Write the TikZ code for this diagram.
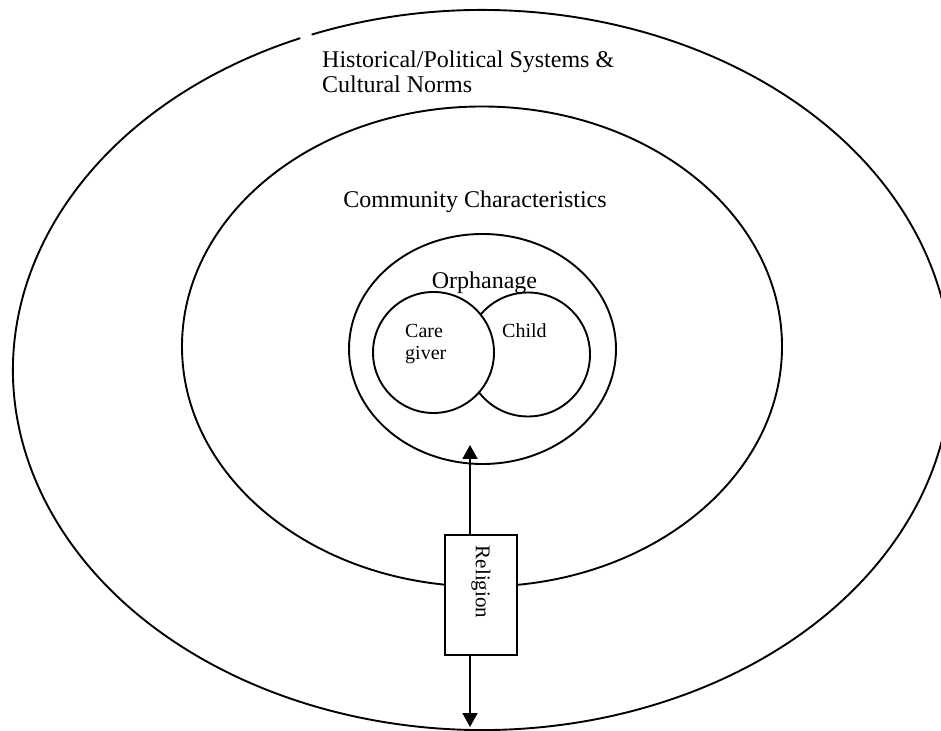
\documentclass[tikz,border=0pt]{standalone}
\usepackage{fontspec}
\setmainfont{Liberation Serif}
\usetikzlibrary{arrows.meta}
\begin{document}
\begin{tikzpicture}[x=1pt,y=1pt,
  ring/.style={line width=1.9pt},
  lbl/.style={inner sep=0pt, font=\fontsize{24}{25}\selectfont},
  smalllbl/.style={inner sep=0pt, font=\fontsize{20}{22}\selectfont},
  arr/.style={line width=1.9pt, -{Triangle[width=15pt,length=14pt]}}]
\useasboundingbox (0,0) rectangle (941,730);
\clip (0,0) rectangle (941,730);
% outer ring with small gap near the top
\draw[ring] (482,360) ++(112.8:469 and 360)
  arc[start angle=112.8, end angle=471.3, x radius=469, y radius=360];
% community ring
\draw[ring] (482,383.5) ellipse[x radius=300, y radius=240];
% orphanage ring
\draw[ring] (482.5,381) ellipse[x radius=133.5, y radius=115];
% child and caregiver circles
\draw[ring, fill=white] (528,375.5) circle[radius=62];
\draw[ring, fill=white] (433.5,377.5) circle[radius=60.5];
% labels
\node[lbl, anchor=north west, align=left] (hist) at (322,679.5)
  {Historical/Political Systems \&\\Cultural Norms};
\node[lbl, anchor=base] (comm) at (475,522) {Community Characteristics};
\node[lbl, anchor=base] (orph) at (484.5,441) {Orphanage};
\node[smalllbl, anchor=north west, align=left] (care) at (405,406) {Care\\giver};
\node[smalllbl, anchor=base west] (child) at (502,392) {Child};
% religion box and arrows
\node[draw, line width=1.9pt, fill=white, minimum width=72pt,
  minimum height=120pt, inner sep=0pt] (relbox) at (481,135) {};
\node[inner sep=0pt, font=\fontsize{21}{21}\selectfont, rotate=-90]
  (rel) at (481,148) {Religion};
\coordinate (tipT) at (470,285);
\coordinate (tipB) at (470,3);
\draw[arr] (tipT |- relbox.north) -- (tipT);
\draw[arr] (tipB |- relbox.south) -- (tipB);
\end{tikzpicture}
\end{document}
